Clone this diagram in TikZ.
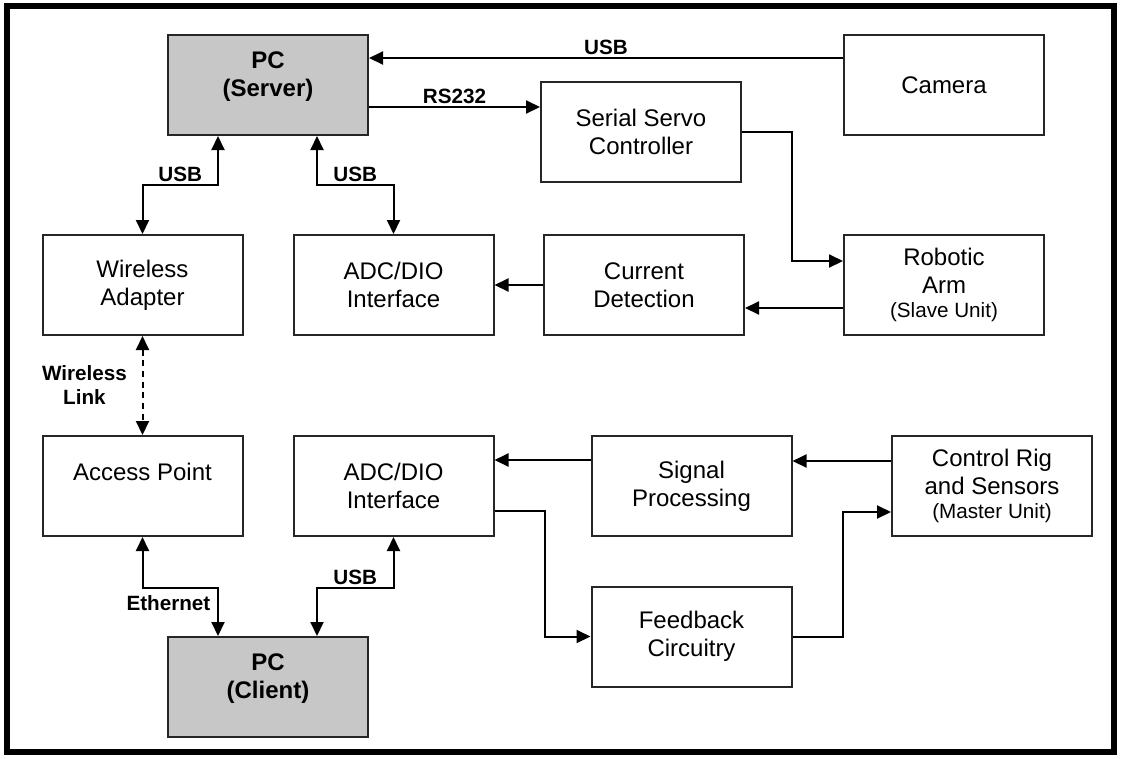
\documentclass[tikz,border=0pt]{standalone}
\usepackage{fontspec}
\setmainfont{Liberation Sans}
\usetikzlibrary{arrows.meta}

\newcommand{\unitfont}{\fontsize{15.5}{18}\selectfont}

\begin{document}
\begin{tikzpicture}[
        x=0.75pt, y=-0.75pt,
        blk/.style={draw=black!85, line width=1.5pt, minimum width=150pt, minimum height=75pt,
          inner sep=0pt, align=center, font=\fontsize{18}{21}\selectfont},
        pcblk/.style={blk, fill=black!22, font=\fontsize{18}{21}\selectfont\bfseries},
        lbl/.style={font=\fontsize{15.5}{18}\selectfont\bfseries, inner sep=2pt},
        conn/.style={line width=1.5pt, -{Triangle[length=10.5pt, width=9.75pt]}},
        biconn/.style={line width=1.5pt, {Triangle[length=10.5pt, width=9.75pt]}-{Triangle[length=10.5pt, width=9.75pt]}},
      ]
        \useasboundingbox (0,0) rectangle (1121,758);
        \draw[line width=4.5pt] (7,6) rectangle (1114,752);

        % Server side
        \node[pcblk] (server) at (268,85) {PC\\(Server)\\[-4pt]\mbox{}};
        \node[blk] (camera) at (944,85) {Camera};
        \node[blk] (servo) at (641,132) {Serial Servo\\Controller};
        \node[blk] (wadapter) at (142.5,285) {Wireless\\Adapter};
        \node[blk] (adctop) at (393.5,285) {ADC/DIO\\Interface};
        \node[blk] (curdet) at (644,285) {Current\\Detection};
        \node[blk] (arm) at (944,285) {Robotic\\Arm\\[-3pt]{\unitfont (Slave Unit)}};

        % Client side
        \node[blk] (apoint) at (142.5,486) {Access Point\\\mbox{}};
        \node[blk] (adcbot) at (393.5,486) {ADC/DIO\\Interface};
        \node[blk] (sigproc) at (691.5,486) {Signal\\Processing};
        \node[blk] (rig) at (992,486) {Control Rig\\and Sensors\\[-3pt]{\unitfont (Master Unit)}};
        \node[blk] (feedback) at (691.5,636.5) {Feedback\\Circuitry};
        \node[pcblk] (client) at (268,687) {PC\\(Client)\\[-4pt]\mbox{}};

        % Server links
        \coordinate (camA) at ([yshift=20.25pt]camera.west);
        \draw[conn] (camA) -- (camA -| server.east) node[lbl, midway, above] (camlbl) {USB};
        \coordinate (rsA) at ([yshift=-16.5pt]server.east);
        \draw[conn] (rsA) -- (rsA -| servo.west) node[lbl, midway, above] (rslbl) {RS232};
        \draw[conn] (servo.east) -- ++(50,0) |- ([yshift=18pt]arm.west);
        \coordinate (armA) at ([yshift=-17.25pt]arm.west);
        \draw[conn] (armA) -- (armA -| curdet.east);
        \draw[conn] (curdet) -- (adctop);
        \draw[biconn] ([xshift=-37.5pt]server.south) -- ++(0,49) -| (wadapter.north)
          node[lbl, pos=0.25, above] (usblA) {USB};
        \draw[biconn] ([xshift=36.75pt]server.south) -- ++(0,49) -| (adctop.north)
          node[lbl, pos=0.25, above] (usblB) {USB};

        % Wireless link
        \draw[biconn, dash pattern=on 4.5pt off 3.5pt] (wadapter) -- (apoint)
          node[lbl, midway, left=9pt, align=center] (wlbl) {Wireless\\Link};

        % Client links
        \draw[biconn] (apoint.south) -- ++(0,51) -| ([xshift=-37.5pt]client.north)
          node[lbl, pos=0.5, anchor=north east, inner sep=5pt] (ethlbl) {Ethernet};
        \draw[biconn] (adcbot.south) -- ++(0,51) -| ([xshift=36.75pt]client.north)
          node[lbl, pos=0.25, above] (usblC) {USB};
        \coordinate (rigA) at ([yshift=18.75pt]rig.west);
        \draw[conn] (rigA) -- (rigA -| sigproc.east);
        \coordinate (spA) at ([yshift=19.5pt]sigproc.west);
        \draw[conn] (spA) -- (spA -| adcbot.east);
        \draw[conn] ([yshift=-18.75pt]adcbot.east) -- ++(50,0) |- (feedback.west);
        \draw[conn] (feedback.east) -- ++(50,0) |- ([yshift=-19.5pt]rig.west);
      \end{tikzpicture}
\end{document}
